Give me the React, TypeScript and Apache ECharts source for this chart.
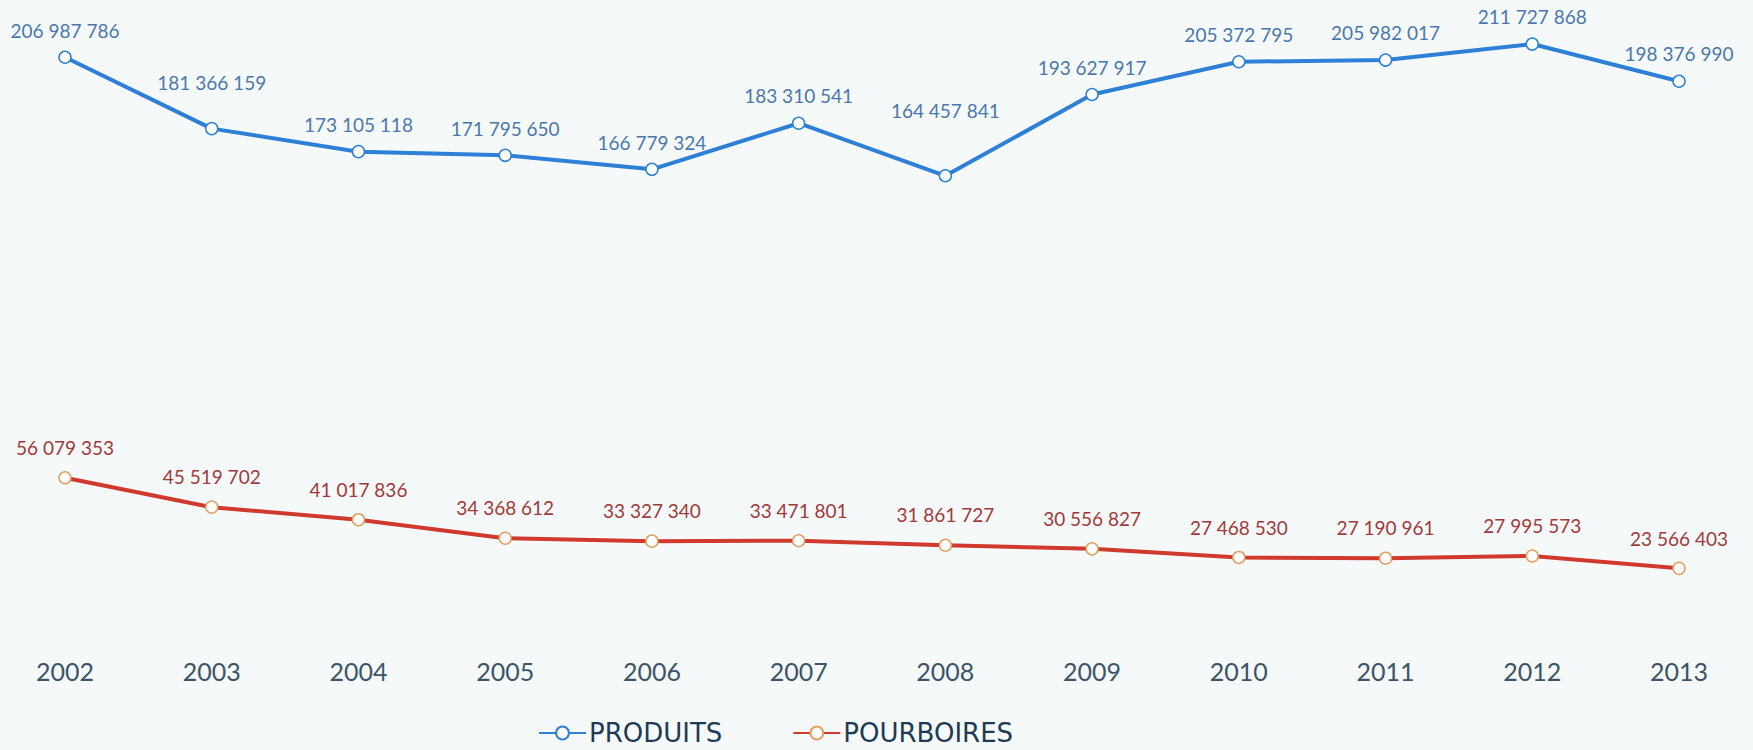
import React, { useEffect, useRef } from "react";
import * as echarts from "echarts";

const years = ["2002", "2003", "2004", "2005", "2006", "2007", "2008", "2009", "2010", "2011", "2012", "2013"];
const produits = [206987786, 181366159, 173105118, 171795650, 166779324, 183310541, 164457841, 193627917, 205372795, 205982017, 211727868, 198376990];
const pourboires = [56079353, 45519702, 41017836, 34368612, 33327340, 33471801, 31861727, 30556827, 27468530, 27190961, 27995573, 23566403];

const fmt = (v: number) => String(v).replace(/\B(?=(\d{3})+(?!\d))/g, " ");

export default function App() {
  const ref = useRef<HTMLDivElement>(null);
  useEffect(() => {
    if (!ref.current) return;
    const chart = echarts.init(ref.current, null, { renderer: "svg" });
    const font = "Lato, 'Liberation Sans', sans-serif";
    // labels lifted clear of the rising segments, as in the reference
    const liftedLabel: Record<number, number> = { 1: 30, 6: 49 };
    const produitsItems = produits.map((v, i) =>
      liftedLabel[i] !== undefined ? { value: v, label: { distance: liftedLabel[i] } } : v
    );
    chart.setOption({
      animation: false,
      backgroundColor: "#f6f9f9",
      textStyle: { fontFamily: font },
      grid: { left: 65, right: 74, top: 21, bottom: 116 },
      xAxis: {
        type: "category",
        data: years,
        boundaryGap: false,
        axisLine: { show: false },
        axisTick: { show: false },
        axisLabel: { fontSize: 25, color: "#3c5468", margin: 24, fontFamily: font },
      },
      yAxis: {
        type: "value",
        min: 0,
        max: 220000000,
        show: false,
        splitLine: { show: false },
      },
      legend: {
        top: 715,
        left: 533,
        itemWidth: 47,
        itemHeight: 16,
        itemGap: 70,
        textStyle: { fontSize: 26, color: "#1f3a55", fontFamily: "'DejaVu Sans', sans-serif", padding: [0, 0, 0, -2] },
        data: ["PRODUITS", "POURBOIRES"],
      },
      series: [
        {
          name: "PRODUITS",
          type: "line",
          data: produitsItems,
          symbol: "circle",
          symbolSize: 12,
          color: "#2d80d6",
          lineStyle: { width: 4, color: "#2d80d6" },
          itemStyle: { color: "#ffffff", borderColor: "#2d80d6", borderWidth: 1.5 },
          label: {
            show: true,
            position: "top",
            distance: 11,
            fontSize: 19,
            color: "#4a78ac",
            fontFamily: font,
            formatter: (p: any) => fmt(p.value),
          },
        },
        {
          name: "POURBOIRES",
          type: "line",
          data: pourboires,
          symbol: "circle",
          symbolSize: 12,
          color: "#d03a2e",
          lineStyle: { width: 4, color: "#d03a2e" },
          itemStyle: { color: "#ffffff", borderColor: "#e0a060", borderWidth: 1.5 },
          label: {
            show: true,
            position: "top",
            distance: 14,
            fontSize: 19,
            color: "#a13a3a",
            fontFamily: font,
            formatter: (p: any) => fmt(p.value),
          },
        },
      ],
    });
    return () => chart.dispose();
  }, []);
  return <div ref={ref} style={{ width: 1753, height: 750, position: "absolute", left: 0, top: 0 }} />;
}
